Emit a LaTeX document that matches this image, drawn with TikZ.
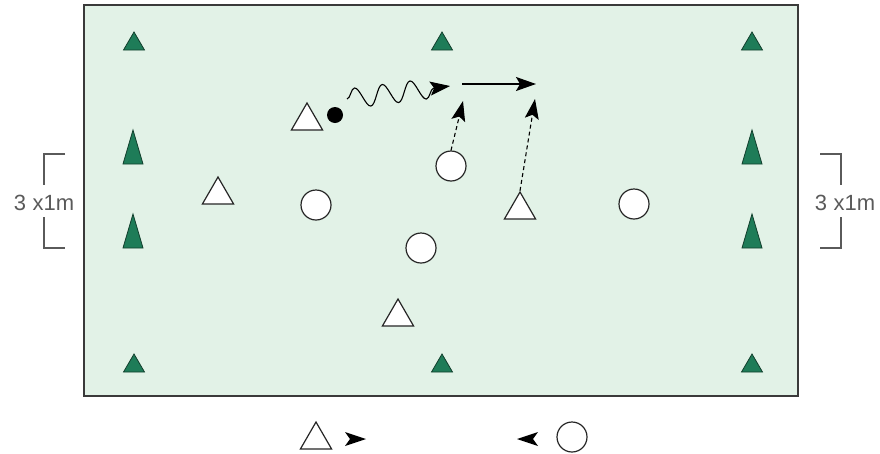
\documentclass[tikz,border=0pt]{standalone}
\usepackage{fontspec}
\newfontfamily\labelfont{Liberation Sans}
\usetikzlibrary{shapes.geometric,arrows.meta,decorations.pathmorphing}
\definecolor{fieldfill}{HTML}{E2F2E7}
\definecolor{fieldline}{HTML}{3A3A3A}
\definecolor{conegreen}{HTML}{1E7C58}
\definecolor{conedark}{HTML}{123F2D}
\definecolor{markgrey}{HTML}{5A5A5A}
\tikzset{
  attacker/.style={regular polygon, regular polygon sides=3, minimum size=36pt, inner sep=0pt, draw=black!85, fill=white, line width=1.2pt},
  defender/.style={circle, minimum size=30pt, inner sep=0pt, draw=black!85, fill=white, line width=1.2pt},
  runtip/.style={-{Stealth[length=20pt,width=14pt,inset=4pt]}},
}
\begin{document}
\begin{tikzpicture}[x=1pt,y=-1pt]
\useasboundingbox (0,0) rectangle (880,453);

% Playing area
\filldraw[fill=fieldfill, draw=fieldline, line width=1.6pt] (84,5) rectangle (798,396);

% Small cones (corners and halfway)
\foreach \x/\y in {134/41, 442/41, 752/41, 134/363, 442/363, 752/363} {
    \filldraw[fill=conegreen, draw=conedark, line width=0.8pt] (\x-10.5,\y+9) -- (\x+10.5,\y+9) -- (\x,\y-9) -- cycle;
}

% Tall cones (goals)
\foreach \x/\y in {133/147, 133/231, 752/147, 752/231} {
    \filldraw[fill=conegreen, draw=conedark, line width=0.8pt] (\x-10,\y+17) -- (\x+10,\y+17) -- (\x,\y-17) -- cycle;
}

% Goal width brackets
\draw[markgrey, line width=1.2pt] (65,154) -- (44,154) -- (44,185);
\draw[markgrey, line width=1.2pt] (44,217) -- (44,248) -- (65,248);
\node[font=\labelfont\fontsize{22}{26}\selectfont, text=markgrey, inner sep=0pt] (goalL) at (44,203) {3\hspace{0.3em}x1m};
\draw[markgrey, line width=1.2pt] (820,154) -- (841,154) -- (841,185);
\draw[markgrey, line width=1.2pt] (841,217) -- (841,248) -- (820,248);
\node[font=\labelfont\fontsize{22}{26}\selectfont, text=markgrey, inner sep=0pt] (goalR) at (845,203) {3\hspace{0.3em}x1m};

% Attackers (triangles)
\node[attacker] (att1) at (307,121) {};
\node[attacker] (att2) at (218,195) {};
\node[attacker] (att3) at (520,210) {};
\node[attacker] (att4) at (398,317) {};

% Defenders (circles)
\node[defender] (def1) at (316,205) {};
\node[defender] (def2) at (451,166) {};
\node[defender] (def3) at (421,248) {};
\node[defender] (def4) at (634,204) {};

% Ball and dribble
\node[circle, fill=black, minimum size=16pt, inner sep=0pt] (ball) at (335,115) {};
\coordinate (dribS) at (347,99);
\coordinate (dribE) at (450,86);
\draw[line width=1.1pt, runtip, decorate, decoration={snake, segment length=28pt, amplitude=10pt, post length=16pt}] (dribS) -- (dribE);

% Pass
\coordinate (passS) at (462,84);
\coordinate (passE) at (536,84);
\draw[line width=1.2pt, runtip] (passS) -- (passE);

% Support runs
\coordinate (run2) at (463,101);
\coordinate (run3) at (535,99);
\draw[line width=1.1pt, dash pattern=on 4pt off 3pt, runtip] (def2.north) -- (run2);
\draw[line width=1.1pt, dash pattern=on 4pt off 3pt, runtip] (att3.corner 1) -- (run3);

% Key
\node[attacker] (keyAtt) at (316,440) {};
\fill (345,432) -- (366,439) -- (345,446) -- (350,439) -- cycle;
\fill (538,432) -- (517,439) -- (538,446) -- (533,439) -- cycle;
\node[defender] (keyDef) at (572,437) {};

\end{tikzpicture}
\end{document}
